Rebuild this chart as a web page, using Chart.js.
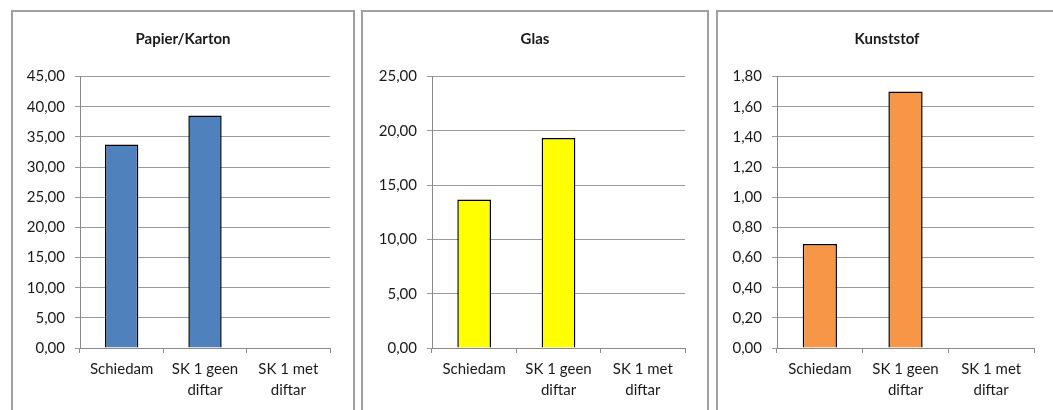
<!DOCTYPE html>
<html>
<head>
<meta charset="utf-8">
<script src="https://cdn.jsdelivr.net/npm/chart.js@4"></script>
<style>
  body { margin: 0; background: #fff; width: 1053px; height: 410px; overflow: hidden; position: relative; }
  .panel { position: absolute; top: 10px; height: 420px; border: 2px solid #a0a0a0; box-sizing: border-box; background: #fff; }
  .panel canvas { position: absolute; left: 0; top: 0; }
</style>
</head>
<body>
<div class="panel" id="p1" style="left:11px; width:344px;"><canvas id="c1"></canvas></div>
<div class="panel" id="p2" style="left:361px; width:348px;"><canvas id="c2"></canvas></div>
<div class="panel" id="p3" style="left:716px; width:360px;"><canvas id="c3"></canvas></div>
<script>
const categories = ["Schiedam", ["SK 1 geen", "diftar"], ["SK 1 met", "diftar"]];

const titles = ["Papier/Karton", "Glas", "Kunststof"];

const papierValues = [33.75, 38.55, 0];
const glasValues = [13.67, 19.33, 0];
const kunststofValues = [0.69, 1.70, 0];

const papierTicks = { max: 45, step: 5 };
const glasTicks = { max: 25, step: 5 };
const kunststofTicks = { max: 1.8, step: 0.2 };

const fontFamily = "Lato, 'Open Sans', sans-serif";

// yWidth = distance from canvas left to y axis, rightPad = canvas right to plot right
function makeChart(id, title, values, ticks, color, yWidth, rightPad, w) {
  const canvas = document.getElementById(id);
  canvas.width = w;
  canvas.height = 398;
  canvas.style.width = w + "px";
  canvas.style.height = "398px";
  return new Chart(canvas, {
    type: "bar",
    data: {
      labels: categories,
      datasets: [{
        data: values,
        backgroundColor: color,
        borderColor: "#000",
        borderWidth: 1.5,
        barPercentage: 0.4,
        categoryPercentage: 1
      }]
    },
    options: {
      responsive: false,
      animation: false,
      layout: { padding: 0 },
      plugins: {
        legend: { display: false },
        tooltip: { enabled: false },
        title: {
          display: true,
          text: title,
          color: "#1a1a1a",
          font: { family: fontFamily, size: 15, weight: "bold", lineHeight: 1.2 },
          padding: { top: 18, bottom: 28.5 }
        }
      },
      scales: {
        x: {
          grid: { display: true, drawOnChartArea: false, tickLength: 5, color: "#8a8a8a", offset: true },
          border: { color: "#8a8a8a", width: 1 },
          ticks: {
            color: "#1a1a1a",
            font: { family: fontFamily, size: 15, lineHeight: 1.45 },
            padding: 5,
            maxRotation: 0,
            autoSkip: false
          },
          afterFit: s => { s.height = 62; }
        },
        y: {
          min: 0,
          max: ticks.max,
          grid: { color: "#9a9a9a", tickLength: 5, lineWidth: 1 },
          border: { color: "#8a8a8a", width: 1 },
          ticks: {
            stepSize: ticks.step,
            color: "#1a1a1a",
            font: { family: fontFamily, size: 15 },
            padding: 10,
            callback: v => v.toFixed(2).replace(".", ",")
          },
          afterFit: s => { s.width = yWidth; }
        },
        // empty right axis, only reserves the margin right of the plot
        yRight: {
          type: "linear",
          position: "right",
          grid: { display: false },
          border: { display: false },
          ticks: { display: false },
          afterFit: s => { s.width = rightPad; }
        }
      }
    }
  });
}

makeChart("c1", titles[0], papierValues, papierTicks, "#4F81BD", 67, 23, 340);
makeChart("c2", titles[1], glasValues, glasTicks, "#FFFF00", 69, 22, 344);
makeChart("c3", titles[2], kunststofValues, kunststofTicks, "#F79646", 59, 22, 338);
</script>
</body>
</html>
